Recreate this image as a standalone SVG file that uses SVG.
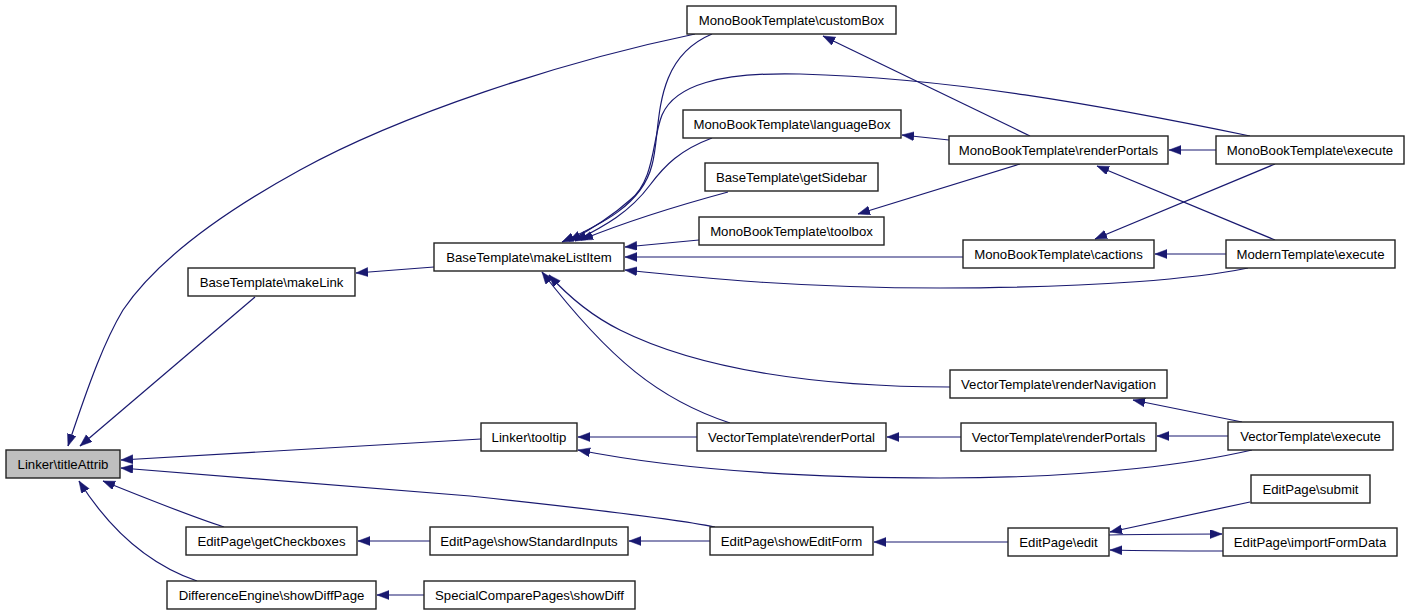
<svg xmlns="http://www.w3.org/2000/svg" width="1411" height="615" viewBox="0 0 1411 615">
<style>
.node rect{fill:#ffffff;stroke:#222222;stroke-width:1.4}
.node.hl rect{fill:#bfbfbf}
.node text{font-family:"Liberation Sans",Arial,sans-serif;font-size:13.2px;fill:#000000;text-anchor:middle}
.edge{fill:none;stroke:#191970;stroke-width:1.2;marker-end:url(#ah)}
</style>
<defs>
<marker id="ah" markerUnits="userSpaceOnUse" markerWidth="14" markerHeight="10" refX="12" refY="4.5" orient="auto">
<path d="M0,0 L12,4.5 L0,9 z" fill="#191970" stroke="#191970" stroke-width="0.5"/>
</marker>
</defs>
<rect width="1411" height="615" fill="#ffffff"/>
<g id="edges">
<path class="edge" d="M695,34 C560,62 400,115 300,170 C200,225 150,270 123,310 C105,340 90,380 68,446"/>
<path class="edge" d="M255,297 L80,446"/>
<path class="edge" d="M434,267 L356,273"/>
<path class="edge" d="M712,34 C650,60 662,130 652,165 C642,205 600,225 562,242"/>
<path class="edge" d="M1250,136 C1100,105 950,78 800,74 C720,72 675,85 662,115 C652,140 655,180 630,200 C610,218 590,230 569,241"/>
<path class="edge" d="M712,138 C680,150 665,165 650,185 C630,212 605,226 575,241"/>
<path class="edge" d="M728,192 C680,205 625,222 581,240"/>
<path class="edge" d="M699,240 L625,247"/>
<path class="edge" d="M963,257 L625,257"/>
<path class="edge" d="M1248,268 C1200,278 1100,288 940,288 C800,288 700,278 625,270"/>
<path class="edge" d="M1030,136 L823,36"/>
<path class="edge" d="M949,140 L902,135"/>
<path class="edge" d="M1020,164 L858,214"/>
<path class="edge" d="M1216,150 L1169,150"/>
<path class="edge" d="M1275,240 L1097,166"/>
<path class="edge" d="M1275,164 L1095,239"/>
<path class="edge" d="M1226,254 L1155,254"/>
<path class="edge" d="M481,439 L121,460"/>
<path class="edge" d="M715,527 C680,520 620,512 470,496 L121,468"/>
<path class="edge" d="M224,527 C190,516 150,500 103,481"/>
<path class="edge" d="M197,581 C150,565 110,530 79,481"/>
<path class="edge" d="M697,437 L578,437"/>
<path class="edge" d="M1252,450 C1200,462 1100,478 940,478 C800,478 680,470 578,450"/>
<path class="edge" d="M961,437 L887,437"/>
<path class="edge" d="M730,423 C660,400 610,360 542,272"/>
<path class="edge" d="M950,387 C820,387 700,370 620,330 C590,315 568,296 549,275"/>
<path class="edge" d="M1242,422 L1133,400"/>
<path class="edge" d="M1228,436 L1157,436"/>
<path class="edge" d="M1008,542 L874,542"/>
<path class="edge" d="M430,541 L358,541"/>
<path class="edge" d="M710,541 L629,541"/>
<path class="edge" d="M424,595 L377,595"/>
<path class="edge" d="M1250,502 L1110,532"/>
<path class="edge" d="M1109,535 C1150,534 1190,534 1222,534"/>
<path class="edge" d="M1223,551 C1190,551 1150,551 1110,550"/>
</g>
<g id="n_titleAttrib" class="node hl"><rect x="6" y="450" width="114" height="28"/><text x="63" y="468.5">Linker\titleAttrib</text></g>
<g id="n_makeLink" class="node"><rect x="188" y="268" width="167" height="28"/><text x="271.5" y="286.5">BaseTemplate\makeLink</text></g>
<g id="n_makeListItem" class="node"><rect x="434" y="243" width="190" height="28"/><text x="529" y="261.5">BaseTemplate\makeListItem</text></g>
<g id="n_customBox" class="node"><rect x="687" y="6" width="209" height="28"/><text x="791.5" y="24.5">MonoBookTemplate\customBox</text></g>
<g id="n_languageBox" class="node"><rect x="683" y="110" width="218" height="28"/><text x="792" y="128.5">MonoBookTemplate\languageBox</text></g>
<g id="n_getSidebar" class="node"><rect x="705" y="163" width="173" height="28"/><text x="791.5" y="181.5">BaseTemplate\getSidebar</text></g>
<g id="n_toolbox" class="node"><rect x="699" y="217" width="185" height="28"/><text x="791.5" y="235.5">MonoBookTemplate\toolbox</text></g>
<g id="n_mbRenderPortals" class="node"><rect x="949" y="136" width="219" height="28"/><text x="1058.5" y="154.5">MonoBookTemplate\renderPortals</text></g>
<g id="n_mbExecute" class="node"><rect x="1216" y="136" width="188" height="28"/><text x="1310" y="154.5">MonoBookTemplate\execute</text></g>
<g id="n_cactions" class="node"><rect x="963" y="240" width="191" height="28"/><text x="1058.5" y="258.5">MonoBookTemplate\cactions</text></g>
<g id="n_modernExecute" class="node"><rect x="1226" y="240" width="169" height="28"/><text x="1310.5" y="258.5">ModernTemplate\execute</text></g>
<g id="n_renderNavigation" class="node"><rect x="950" y="370" width="217" height="28"/><text x="1058.5" y="388.5">VectorTemplate\renderNavigation</text></g>
<g id="n_renderPortal" class="node"><rect x="697" y="423" width="189" height="28"/><text x="791.5" y="441.5">VectorTemplate\renderPortal</text></g>
<g id="n_tooltip" class="node"><rect x="481" y="423" width="96" height="28"/><text x="529" y="441.5">Linker\tooltip</text></g>
<g id="n_vtRenderPortals" class="node"><rect x="961" y="423" width="195" height="28"/><text x="1058.5" y="441.5">VectorTemplate\renderPortals</text></g>
<g id="n_vtExecute" class="node"><rect x="1228" y="422" width="165" height="28"/><text x="1310.5" y="440.5">VectorTemplate\execute</text></g>
<g id="n_getCheckboxes" class="node"><rect x="186" y="527" width="171" height="28"/><text x="271.5" y="545.5">EditPage\getCheckboxes</text></g>
<g id="n_showStandardInputs" class="node"><rect x="430" y="527" width="198" height="28"/><text x="529" y="545.5">EditPage\showStandardInputs</text></g>
<g id="n_showEditForm" class="node"><rect x="710" y="527" width="163" height="28"/><text x="791.5" y="545.5">EditPage\showEditForm</text></g>
<g id="n_edit" class="node"><rect x="1008" y="528" width="101" height="28"/><text x="1058.5" y="546.5">EditPage\edit</text></g>
<g id="n_submit" class="node"><rect x="1251" y="475" width="119" height="28"/><text x="1310.5" y="493.5">EditPage\submit</text></g>
<g id="n_importFormData" class="node"><rect x="1223" y="528" width="174" height="28"/><text x="1310" y="546.5">EditPage\importFormData</text></g>
<g id="n_showDiffPage" class="node"><rect x="167" y="581" width="209" height="28"/><text x="271.5" y="599.5">DifferenceEngine\showDiffPage</text></g>
<g id="n_showDiff" class="node"><rect x="424" y="581" width="211" height="28"/><text x="529.5" y="599.5">SpecialComparePages\showDiff</text></g>
</svg>
